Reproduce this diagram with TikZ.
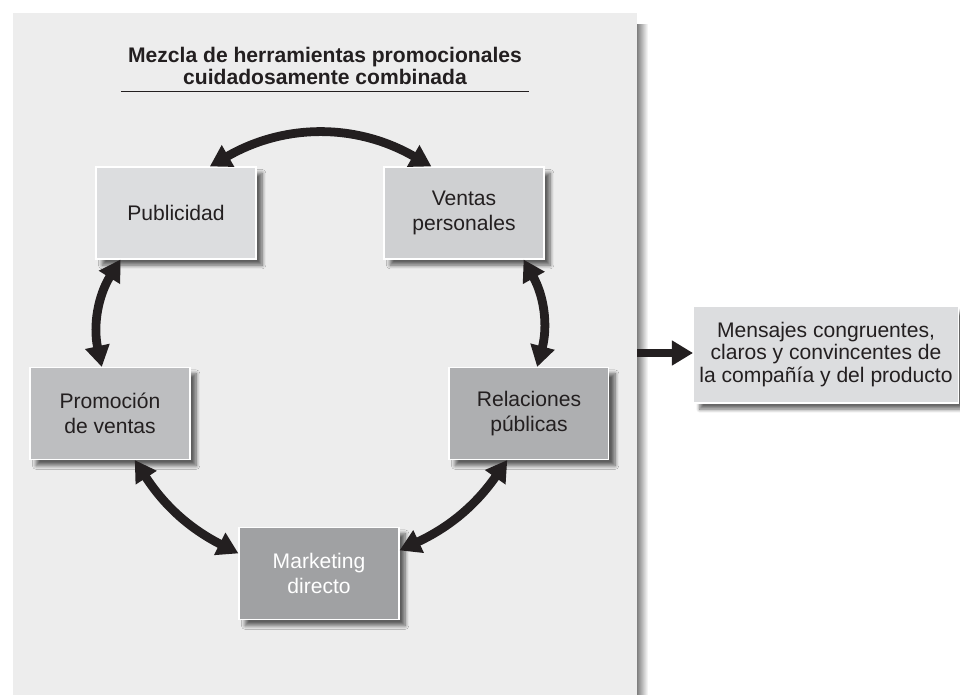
\documentclass[tikz,border=0pt]{standalone}
\usepackage{fontspec}
\setmainfont{Liberation Sans}
\usetikzlibrary{arrows.meta,positioning,shadows.blur}
\definecolor{ink}{HTML}{231F20}
\definecolor{panelgray}{HTML}{EDEDED}
\definecolor{toolA}{HTML}{DCDDDF}
\definecolor{toolB}{HTML}{CFD0D2}
\definecolor{toolC}{HTML}{BDBEC0}
\definecolor{toolD}{HTML}{AEAFB1}
\definecolor{toolE}{HTML}{A0A1A3}
\tikzset{
  tool/.style={rectangle, draw=white, line width=0.6pt, minimum width=3.2cm, minimum height=1.84cm,
               align=center, text=ink, font=\fontsize{12}{14.2}\selectfont,
               blur shadow={shadow xshift=3.5pt, shadow yshift=-3.5pt, shadow blur steps=8, shadow opacity=60}},
  msgbox/.style={tool, minimum width=5.28cm, minimum height=1.94cm, font=\fontsize{12}{12.8}\selectfont},
  hdr/.style={align=center, text=ink, font=\fontsize{12}{12.8}\selectfont\bfseries, inner xsep=0.14cm, inner ysep=0.12cm},
  dar/.style={{Triangle[length=12pt,width=13.5pt]}-{Triangle[length=12pt,width=13.5pt]}, line width=5pt, draw=ink},
  ar/.style={-{Triangle[length=12pt,width=13.5pt]}, line width=5pt, draw=ink},
}
\begin{document}
\begin{tikzpicture}[x=0.02cm, y=-0.02cm]
\useasboundingbox (0,0) rectangle (960,695);
% panel behind the mix
\shade[left color=black!50, right color=white] (637,25) rectangle (648,695);
\fill[panelgray] (13,13) rectangle (637,695);
\node[hdr] (title) at (325,66) {Mezcla de herramientas promocionales\\cuidadosamente combinada};
\draw[ink, line width=0.6pt] (title.south west) -- (title.south east);
\node[tool, fill=toolA] (pub) at (176,213) {Publicidad};
\node[tool, fill=toolB, right=2.54cm of pub] (ven) {Ventas\\personales};
\node[tool, fill=toolC] (pro) at (110,413.5) {Promoción\\de ventas};
\node[tool, fill=toolD, right=5.16cm of pro] (rel) {Relaciones\\públicas};
\node[tool, fill=toolE, text=white] (mkt) at (319,573.5) {Marketing\\directo};
\node[msgbox, fill=toolA] (msg) at (826,354.5) {Mensajes congruentes,\\claros y convincentes de\\la compañía y del producto};
\coordinate (mixout) at (637,353);
\draw[dar] (pub.54) to[bend left=30] (ven.125);
\draw[dar] (pub.220) to[bend right=22] (pro.100);
\draw[dar] (ven.322) to[bend left=22] (rel.80);
\draw[dar] (pro.298) to[bend right=15] (mkt.166);
\draw[dar] (rel.245) to[bend left=15] (mkt.16);
\draw[ar] (mixout) -- (mixout -| msg.west);
\end{tikzpicture}
\end{document}
